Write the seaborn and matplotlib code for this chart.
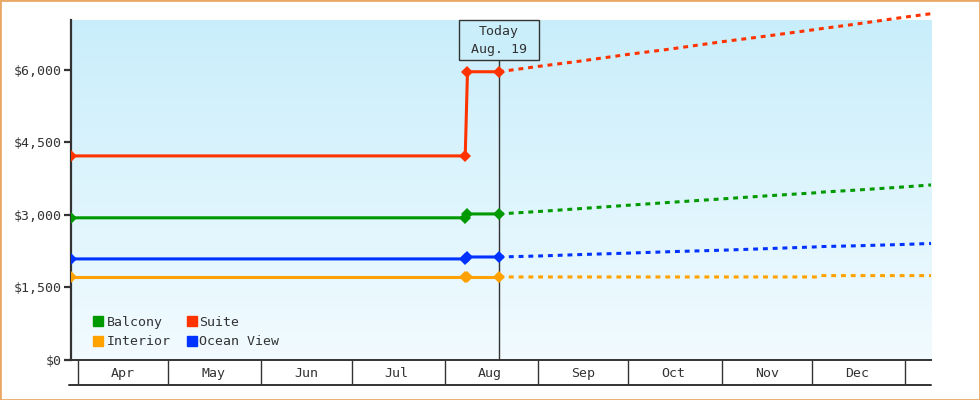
import numpy as np
import pandas as pd
import matplotlib
matplotlib.use("Agg")
import matplotlib.pyplot as plt
import matplotlib.dates as mdates
from matplotlib.colors import LinearSegmentedColormap
from matplotlib.lines import Line2D
from matplotlib.patches import Rectangle
import seaborn as sns

# dane: historia cen (do dziś) i prognoza
cabins = ["Balcony", "Interior", "Suite", "Ocean View"]
colors = ["#009900", "#ffa200", "#ff3300", "#0033ff"]

hist_dates = ["2019-03-29T16:00", "2019-08-07T18:00", "2019-08-08T12:00", "2019-08-19T00:00"]
balcony_hist = [2940, 2940, 3020, 3020]
interior_hist = [1717, 1717, 1717, 1717]
suite_hist = [4220, 4220, 5960, 5960]
ocean_hist = [2090, 2090, 2130, 2130]

fc_dates = ["2019-08-19", "2019-09-01", "2019-09-15", "2019-10-01", "2019-10-15",
            "2019-11-01", "2019-11-15", "2019-12-03", "2019-12-04", "2019-12-15",
            "2020-01-01", "2020-01-09T15:00"]
balcony_fc = [3020, 3070, 3130, 3200, 3260, 3330, 3390, 3460, 3470, 3510, 3580, 3620]
interior_fc = [1717, 1717, 1717, 1717, 1717, 1717, 1717, 1717, 1745, 1745, 1745, 1745]
suite_fc = [5960, 6070, 6180, 6320, 6430, 6580, 6690, 6840, 6850, 6940, 7090, 7160]
ocean_fc = [2130, 2150, 2180, 2210, 2240, 2270, 2300, 2340, 2345, 2360, 2390, 2410]

today = "2019-08-19"
yticks = [0, 1500, 3000, 4500, 6000]

hist = pd.concat([pd.DataFrame({"date": pd.to_datetime(hist_dates, format="ISO8601"), "price": v, "cabin": c})
                  for c, v in zip(cabins, [balcony_hist, interior_hist, suite_hist, ocean_hist])])
fc = pd.concat([pd.DataFrame({"date": pd.to_datetime(fc_dates, format="ISO8601"), "price": v, "cabin": c})
                for c, v in zip(cabins, [balcony_fc, interior_fc, suite_fc, ocean_fc])])

sns.set_style("white")
plt.rcParams["font.family"] = ["DejaVu Sans Mono"]
ink = "#333333"

fig = plt.figure(figsize=(9.8, 4), dpi=100)
ax = fig.add_axes([71 / 980, 40 / 400, 860 / 980, 340 / 400])

# tło z gradientem
cmap = LinearSegmentedColormap.from_list("bg", ["#f2fbff", "#c9eefb"])
ax.imshow(np.linspace(0, 1, 256).reshape(-1, 1), cmap=cmap, origin="lower",
          extent=(0, 1, 0, 1), transform=ax.transAxes, aspect="auto", zorder=0)

palette = dict(zip(cabins, colors))
sns.lineplot(data=hist, x="date", y="price", hue="cabin", palette=palette,
             marker="D", markersize=6, markeredgewidth=0, linewidth=2.2,
             legend=False, ax=ax, zorder=3)
sns.lineplot(data=fc, x="date", y="price", hue="cabin", palette=palette,
             linewidth=2.2, legend=False, ax=ax, zorder=3)
for ln in ax.lines[len(cabins):]:
    ln.set_dashes((1.6, 1.6))
    ln.set_clip_on(False)

xmin = hist["date"].min()
xmax = fc["date"].max()
ax.set_xlim(xmin, xmax)
ax.set_ylim(0, 7030)

# linia "Today"
t = pd.Timestamp(today)
ybox = (360 - 60) / 340
ax.axvline(t, ymin=0, ymax=ybox, color=ink, linewidth=1, zorder=2)
half = pd.Timedelta(days=13.3)
ax.add_patch(Rectangle((mdates.date2num(t - half), ybox), 2 * 13.3, 1 - ybox,
                       transform=ax.get_xaxis_transform(), facecolor="#cbeefb",
                       edgecolor=ink, linewidth=1, zorder=4, clip_on=False))
ax.text(t, (360 - 32) / 340, "Today", transform=ax.get_xaxis_transform(),
        ha="center", va="center", fontsize=9.5, color=ink, zorder=5)
ax.text(t, (360 - 50) / 340, "Aug. 19", transform=ax.get_xaxis_transform(),
        ha="center", va="center", fontsize=9.5, color=ink, zorder=5)

# osie
for s in ["top", "right"]:
    ax.spines[s].set_visible(False)
ax.spines["left"].set_color(ink)
ax.spines["left"].set_linewidth(1.6)
ax.spines["bottom"].set_color(ink)
ax.spines["bottom"].set_linewidth(1.4)

ax.set_yticks(yticks)
ax.yaxis.set_major_formatter(plt.FuncFormatter(lambda v, p: f"${v:,.0f}"))
ax.tick_params(axis="y", length=5, width=1.6, color=ink, labelcolor=ink,
               labelsize=9.5, pad=2, left=True)

ax.xaxis.set_major_locator(mdates.MonthLocator())
ax.xaxis.set_major_formatter(plt.NullFormatter())
ax.xaxis.set_minor_locator(mdates.MonthLocator(bymonthday=16))
ax.xaxis.set_minor_formatter(mdates.DateFormatter("%b"))
ax.tick_params(axis="x", which="major", length=18, width=1, color=ink, bottom=True)
ax.tick_params(axis="x", which="minor", length=0, labelsize=9.5, labelcolor=ink, pad=5)
ax.plot([-0.002, 1], [-25 / 340, -25 / 340], transform=ax.transAxes,
        color=ink, linewidth=1.4, clip_on=False)
ax.set_xlabel("")
ax.set_ylabel("")

handles = [Line2D([], [], marker="s", linestyle="", markersize=7.3, color=c) for c in colors]
ax.legend(handles, cabins, ncol=2, loc="lower left", bbox_to_anchor=(0.012, 0.0),
          frameon=False, fontsize=9.5, handlelength=0.8, handletextpad=0.2,
          columnspacing=1.2, labelspacing=0.5, labelcolor=ink)

fig.add_artist(Rectangle((0, 0), 1, 1, transform=fig.transFigure, fill=False,
                         edgecolor="#e9a866", linewidth=2))

fig.savefig("out.png", dpi=100)
